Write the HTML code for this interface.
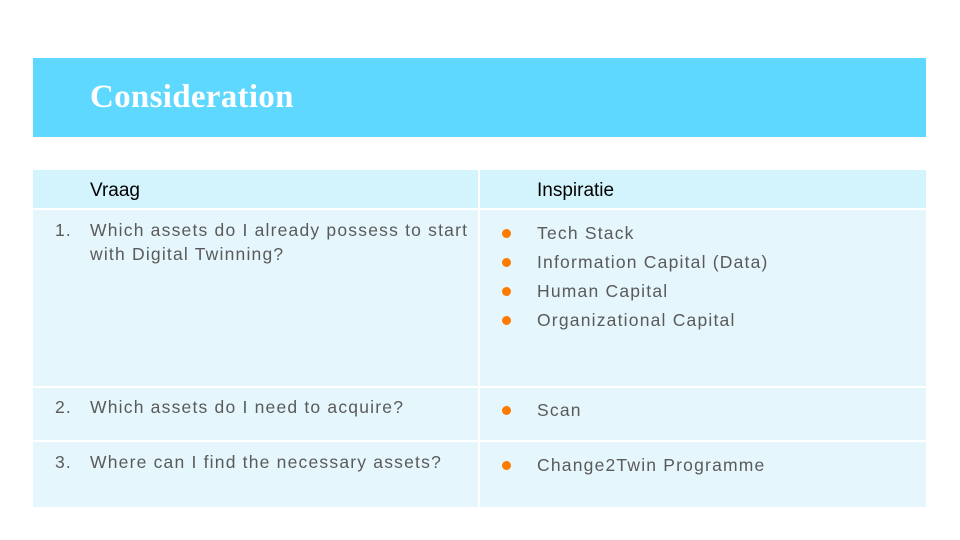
<!DOCTYPE html>
<html><head><style>
body{margin:0;width:960px;height:540px;background:#fff;position:relative;overflow:hidden;font-family:"Liberation Sans",sans-serif}
.ban{position:absolute;left:33px;top:58px;width:893px;height:79px;background:#5fd8ff}
.ban span{position:absolute;left:57px;top:21px;color:#fff;font-family:"Liberation Serif",serif;font-weight:bold;font-size:33px;letter-spacing:0.3px}
.c{position:absolute;box-sizing:border-box}
.h{background:#d4f4fd}
.r{background:#e5f7fd}
.t{position:absolute;color:#5a5a5a;font-size:17.5px;line-height:24px;white-space:nowrap;letter-spacing:1.2px}
.hd{position:absolute;color:#000;font-size:19px}
.dot{position:absolute;width:9px;height:9px;border-radius:50%;background:#ff7a00}
</style></head><body>
<div class="ban"><span>Consideration</span></div>
<div class="c h" style="left:33px;top:170px;width:445px;height:38px"></div>
<div class="c h" style="left:480px;top:170px;width:446px;height:38px"></div>
<div class="c r" style="left:33px;top:210px;width:445px;height:176px"></div>
<div class="c r" style="left:480px;top:210px;width:446px;height:176px"></div>
<div class="c r" style="left:33px;top:388px;width:445px;height:52px"></div>
<div class="c r" style="left:480px;top:388px;width:446px;height:52px"></div>
<div class="c r" style="left:33px;top:442px;width:445px;height:65px"></div>
<div class="c r" style="left:480px;top:442px;width:446px;height:65px"></div>
<div class="hd" style="left:90px;top:180px">Vraag</div>
<div class="hd" style="left:537px;top:180px">Inspiratie</div>
<div class="t" style="left:55px;top:218px">1.</div>
<div class="t" style="left:90px;top:218px">Which assets do I already possess to start<br>with Digital Twinning?</div>
<div class="t" style="left:55px;top:395px">2.</div>
<div class="t" style="left:90px;top:395px">Which assets do I need to acquire?</div>
<div class="t" style="left:55px;top:450px">3.</div>
<div class="t" style="left:90px;top:450px">Where can I find the necessary assets?</div>
<div class="dot" style="left:502px;top:229px"></div><div class="t" style="left:537px;top:221px">Tech Stack</div>
<div class="dot" style="left:502px;top:258px"></div><div class="t" style="left:537px;top:250px">Information Capital (Data)</div>
<div class="dot" style="left:502px;top:287px"></div><div class="t" style="left:537px;top:279px">Human Capital</div>
<div class="dot" style="left:502px;top:316px"></div><div class="t" style="left:537px;top:308px">Organizational Capital</div>
<div class="dot" style="left:502px;top:406px"></div><div class="t" style="left:537px;top:398px">Scan</div>
<div class="dot" style="left:502px;top:461px"></div><div class="t" style="left:537px;top:453px">Change2Twin Programme</div>
</body></html>
